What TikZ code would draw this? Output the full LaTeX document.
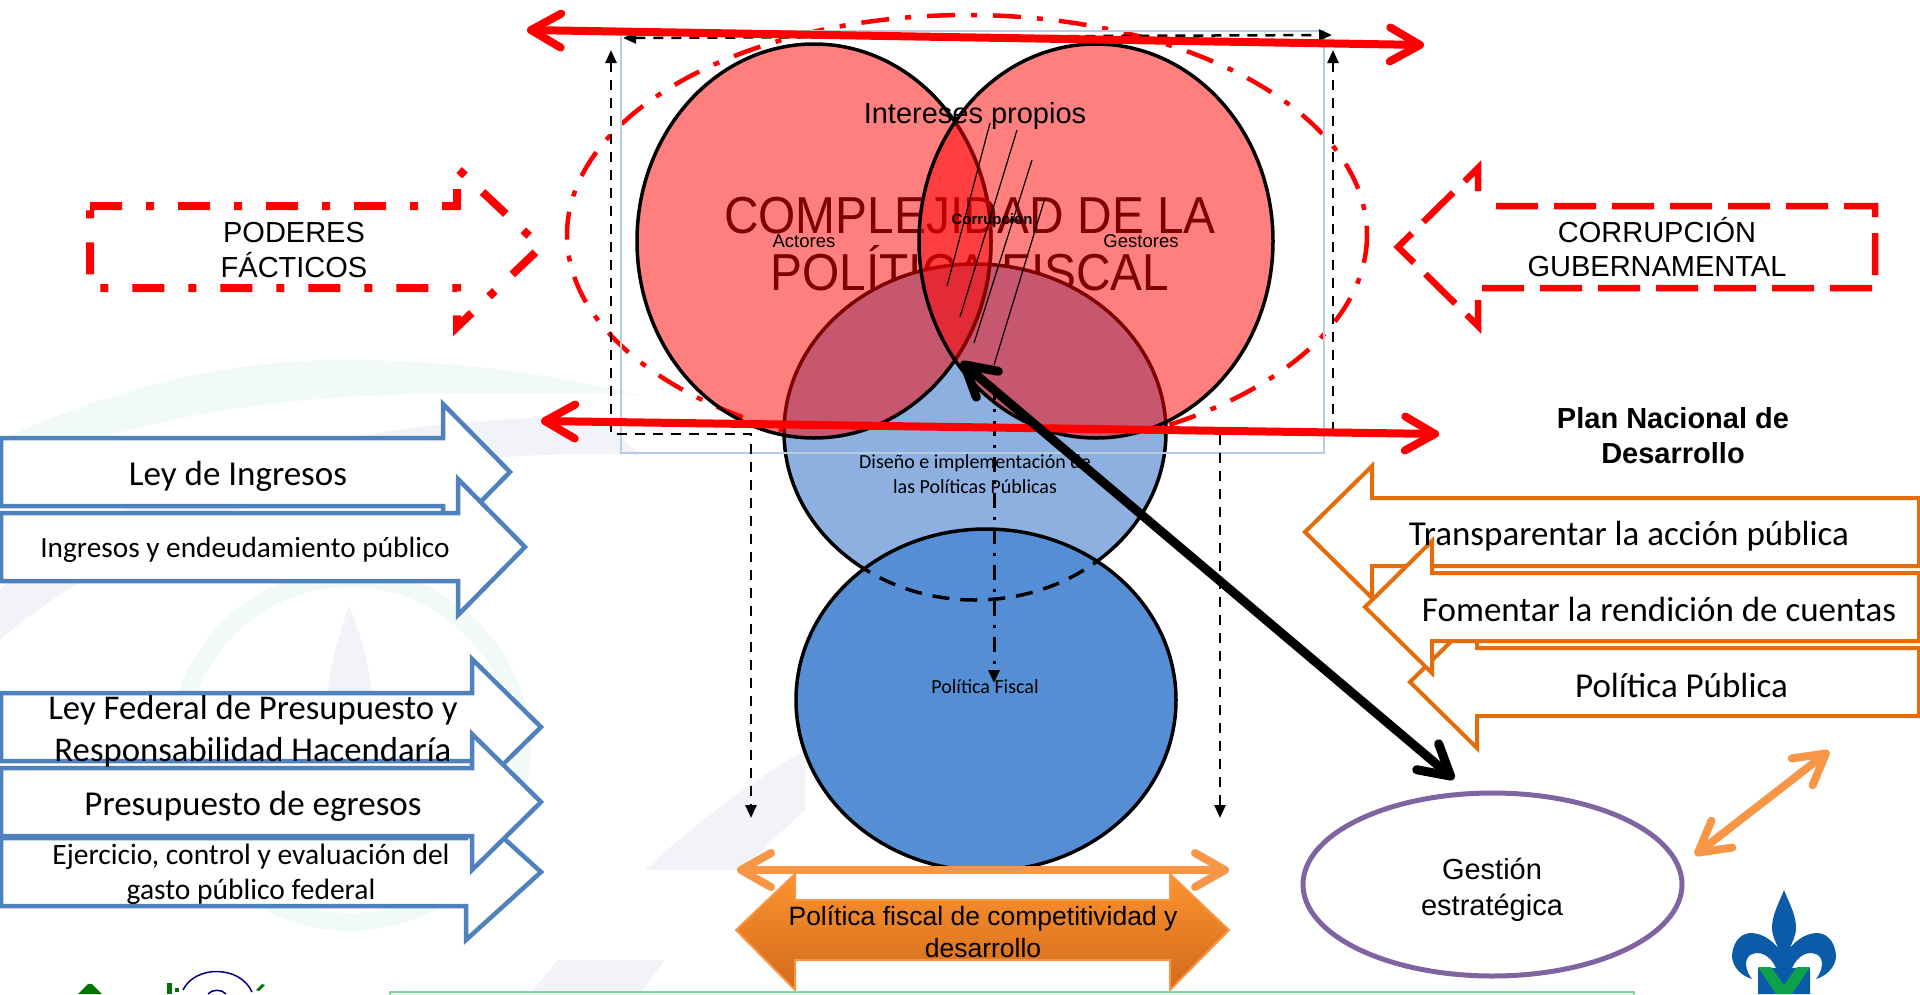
\documentclass[tikz,border=0pt]{standalone}
\usepackage{fontspec}
\setmainfont{Liberation Sans}
\newfontfamily\calibri{Carlito}
\usetikzlibrary{arrows.meta,shapes.geometric}
\definecolor{blueline}{HTML}{4F81BD}
\definecolor{orangeline}{HTML}{E46C0A}
\definecolor{orangelight}{HTML}{F79646}
\definecolor{orangetop}{HTML}{FB9330}
\definecolor{orangelow}{HTML}{D36A1A}
\definecolor{designblue}{HTML}{8DB0E0}
\definecolor{fiscalblue}{HTML}{558ED5}
\definecolor{purpleline}{HTML}{8064A2}
\definecolor{rectblue}{HTML}{B8CCE4}
\definecolor{darkred}{HTML}{7F0000}
\definecolor{wmgreen}{HTML}{F2FAF5}
\definecolor{wmgray}{HTML}{F1F3F8}
\definecolor{logoblue}{HTML}{0B5BA8}
\definecolor{logogreen}{HTML}{0DA14B}
\definecolor{footgreen}{HTML}{7FD9A0}
\definecolor{footfill}{HTML}{E9F9EE}
\tikzset{
    bigtip/.tip={Straight Barb[length=30pt,width=34pt,round]},
    smalltip/.tip={Triangle[length=13pt,width=11pt]},
    redarrow/.style={bigtip-bigtip,red,line width=8pt},
    orangearrow/.style={bigtip-bigtip,orangelight,line width=8pt},
    blackdash/.style={smalltip-smalltip,black,line width=2.5pt,dash pattern=on 10pt off 8pt},
    bluearrow/.style={draw=blueline,fill=white,line width=4.5pt},
    orangeblock/.style={draw=orangeline,fill=white,line width=4pt},
    atext/.style 2 args={inner sep=0pt,align=center,font=\fontsize{#1}{#2}\selectfont},
    btext/.style 2 args={inner sep=0pt,align=center,font=\bfseries\fontsize{#1}{#2}\selectfont},
    ctext/.style 2 args={inner sep=0pt,align=center,font=\calibri\fontsize{#1}{#2}\selectfont},
}
\begin{document}
\begin{tikzpicture}[x=1pt,y=-1pt]
\useasboundingbox (0,0) rectangle (1920,994);
\clip (0,0) rectangle (1920,994);
% watermark
\fill[wmgreen] (0,440) .. controls (120,385) and (230,360) .. (344,360) .. controls (450,360) and (540,372) .. (640,395)
    .. controls (540,392) and (440,392) .. (344,397) .. controls (230,405) and (110,425) .. (0,475) -- cycle;
\fill[wmgray] (0,590) .. controls (100,500) and (300,415) .. (600,417) -- (640,455) .. controls (400,445) and (150,510) .. (0,640) -- cycle;
\draw[wmgreen,line width=18pt] (350,750) ellipse (172 and 172);
\fill[wmgray] (349,605) .. controls (362,640) and (372,670) .. (372,710) .. controls (372,750) and (326,750) .. (327,710) .. controls (327,670) and (338,640) .. (349,605) -- cycle;
\fill[wmgray] (805,750) .. controls (720,800) and (620,880) .. (530,994) -- (640,994) .. controls (690,920) and (750,860) .. (805,810) -- cycle;
\fill[white] (554,870) rectangle (800,960);

% big dash-dot ellipse and the venn
\draw[red,line width=4.5pt,dash pattern=on 28pt off 16pt on 6pt off 16pt] (967,235) ellipse (400 and 220);
\draw[fill=designblue,line width=3.5pt] (975,432) ellipse (191 and 168);
\fill[red,opacity=.5] (814,241) ellipse (177 and 197) (1096,241) ellipse (177 and 197);
\draw[line width=3.5pt] (814,241) ellipse (177 and 197);
\begin{scope}[even odd rule]
\clip (600,0) rectangle (1300,600) (975,432) ellipse (191 and 168);
\node[atext={52}{57},text=darkred,xscale=.92,transform shape] (complejidad) at (970,244) {COMPLEJIDAD DE LA\\POLÍTICA FISCAL};
\end{scope}
\begin{scope}
\clip (814,241) ellipse (179 and 199);
\fill[red,opacity=.5] (1096,241) ellipse (177 and 197);
\end{scope}
\draw[line width=3.5pt] (1096,241) ellipse (177 and 197);
\draw[rectblue,line width=1.2pt] (621,31) rectangle (1324,453);
\foreach \xa/\ya/\xb/\yb in {990/123/947/286,1017/130/960/317,1032/160/974/343,1045/198/994/365}
    {\draw[line width=1.2pt] (\xa,\ya) -- (\xb,\yb);}

% fiscal ellipse
\draw[fill=fiscalblue,line width=3.5pt] (986,700) ellipse (190 and 171);
\begin{scope}
\clip (986,700) ellipse (190 and 171);
\draw[line width=3.5pt,dash pattern=on 17pt off 11pt] (975,432) ellipse (191 and 168);
\end{scope}

% dashed connectors
\coordinate (lefttop) at (611,50);
\coordinate (leftcorner) at (611,434);
\coordinate (leftelbow) at (751,434);
\coordinate (leftend) at (751,818);
\coordinate (righttop) at (1333,50);
\coordinate (rightcorner) at (1333,434);
\coordinate (rightelbow) at (1220,434);
\coordinate (rightend) at (1220,818);
\coordinate (topleft) at (623,38);
\coordinate (topright) at (1332,35);
\coordinate (midtop) at (994,385);
\coordinate (midend) at (994,683);
\draw[blackdash] (lefttop) -- (leftcorner) -- (leftelbow) -- (leftend);
\draw[blackdash] (righttop) -- (rightcorner) -- (rightelbow) -- (rightend);
\draw[blackdash] (topleft) -- (topright);
\draw[black,line width=3pt,dash pattern=on 15pt off 9pt on 3pt off 9pt,-smalltip] (midtop) -- (midend);

% poderes and corrupcion
\draw[red,line width=8pt,dash pattern=on 32pt off 24pt on 8pt off 24pt,miter limit=6]
    (90,206) -- (457,206) -- (457,168) -- (541,247) -- (457,327) -- (457,288) -- (90,288) -- cycle;
\draw[red,line width=6.5pt,dash pattern=on 42pt off 16pt]
    (1496,206) -- (1875,206) -- (1875,288) -- (1478,288) -- (1478,326) -- (1398,247) -- (1478,168) -- (1478,206);

% left block arrows
\foreach \b/\t/\m in {443/510/472,458/525/547,466/541/872,472/541/727,472/541/802}
    {\draw[bluearrow] (1,\m-34) -- (\b,\m-34) -- (\b,\m-68) -- (\t,\m) -- (\b,\m+68) -- (\b,\m+34) -- (1,\m+34) -- cycle;}

% right block arrows
\foreach \b/\t/\m in {1372/1305/532,1477/1410/682,1432/1365/607}
    {\draw[orangeblock] (1919,\m-34) -- (\b,\m-34) -- (\b,\m-66) -- (\t,\m) -- (\b,\m+66) -- (\b,\m+34) -- (1919,\m+34) -- cycle;}

% bottom double arrow and ellipse
\draw[orangelight,line width=2pt,top color=orangetop,bottom color=orangelow]
    (736,930) -- (795,874) -- (795,900) -- (1170,900) -- (1170,874) -- (1229,930) -- (1170,990) -- (1170,960) -- (795,960) -- (795,990) -- cycle;
\node[draw=purpleline,line width=5pt,ellipse,minimum width=379pt,minimum height=183pt,fill=white] (gestion) at (1492.5,884.5) {};

% footer bar and logos
\draw[fill=footfill,draw=footgreen,line width=2pt] (390,992) rectangle (1634,1010);
\fill[green!45!black] (78,994) -- (88,984) -- (92,984) -- (102,994) -- cycle;
\fill[green!45!black] (167,983) rectangle (172,994);
\fill[green!45!black] (175,988) rectangle (179,992);
\fill[green!45!black] (256,990) -- (262,984) -- (265,985) -- (259,991) -- cycle;
\draw[blue!50!black,line width=1.5pt] (183,990) .. controls (195,965) and (240,965) .. (252,992);
\draw[blue!50!black,line width=1.5pt] (208,994) .. controls (212,989) and (222,989) .. (226,994);
\fill[logoblue] (1784,890) .. controls (1790,905) and (1796,915) .. (1796,928) .. controls (1796,936) and (1792,942) .. (1790,948)
    .. controls (1798,938) and (1808,933) .. (1818,933) .. controls (1830,934) and (1836,946) .. (1836,957)
    .. controls (1835,968) and (1826,976) .. (1816,979) .. controls (1823,970) and (1824,960) .. (1818,955)
    .. controls (1808,950) and (1798,955) .. (1792,968) -- (1810,968) -- (1810,994) -- (1758,994) -- (1758,968) -- (1776,968)
    .. controls (1770,955) and (1760,950) .. (1750,955) .. controls (1744,960) and (1745,970) .. (1752,979)
    .. controls (1742,976) and (1733,968) .. (1732,957) .. controls (1732,946) and (1738,934) .. (1750,933)
    .. controls (1760,933) and (1770,938) .. (1778,948) .. controls (1776,942) and (1772,936) .. (1772,928)
    .. controls (1772,915) and (1778,905) .. (1784,890) -- cycle;
\fill[logogreen] (1758,967) -- (1771,967) -- (1784,985) -- (1797,967) -- (1810,967) -- (1792,994) -- (1776,994) -- cycle;

% thick connectors
\coordinate (redtopa) at (527,30);
\coordinate (redtopb) at (1424,45);
\coordinate (redlowa) at (541,421);
\coordinate (redlowb) at (1439,434);
\coordinate (blacka) at (961,362);
\coordinate (blackb) at (1454,779);
\coordinate (fiscala) at (737,870);
\coordinate (fiscalb) at (1229,870);
\coordinate (gesta) at (1695,855);
\coordinate (gestb) at (1829,751);
\draw[redarrow] (redtopa) -- (redtopb);
\draw[redarrow] (redlowa) -- (redlowb);
\draw[bigtip-bigtip,black,line width=9pt] (blacka) -- (blackb);
\draw[orangearrow] (fiscala) -- (fiscalb);
\draw[orangearrow] (gesta) -- (gestb);

% labels
\node[atext={29}{35}] (intereses) at (975,115.5) {Intereses propios};
\node[atext={18.5}{20}] (actores) at (804,241) {Actores};
\node[atext={18.5}{20}] (gestores) at (1141,241) {Gestores};
\node[btext={15}{17}] (corrupcion) at (992,221) {Corrupción};
\node[ctext={20}{25}] (diseno) at (975,474) {Diseño e implementación de\\las Políticas Públicas};
\node[ctext={20}{24}] (politicafiscal) at (985,687) {Política Fiscal};
\node[atext={29}{35}] (poderes) at (294,250) {PODERES\\FÁCTICOS};
\node[atext={29}{34}] (corrupgob) at (1657,247) {CORRUPCIÓN\\GUBERNAMENTAL};
\node[btext={29}{35}] (plan) at (1673,436) {Plan Nacional de\\Desarrollo};
\node[atext={29}{36}] (gestlabel) at (1492,890) {Gestión\\estratégica};
\node[atext={26.5}{32}] (compet) at (983,932) {Política fiscal de competitividad y\\desarrollo};
\node[ctext={35}{42}] (leyingresos) at (238,476) {Ley de Ingresos};
\node[ctext={29.3}{35}] (ingresos) at (245,550) {Ingresos y endeudamiento público};
\node[ctext={34.7}{42}] (leyfederal) at (253,731) {Ley Federal de Presupuesto y\\Responsabilidad Hacendaría};
\node[ctext={35}{40}] (presupuesto) at (253,806) {Presupuesto de egresos};
\node[ctext={29.5}{35}] (ejercicio) at (251,874) {Ejercicio, control y evaluación del\\gasto público federal};
\node[ctext={35}{40}] (transparentar) at (1629,536) {Transparentar la acción pública};
\node[ctext={35}{40}] (fomentar) at (1659,609) {Fomentar la rendición de cuentas};
\node[ctext={35}{40}] (politicapub) at (1681.5,685) {Política Pública};
\end{tikzpicture}
\end{document}
